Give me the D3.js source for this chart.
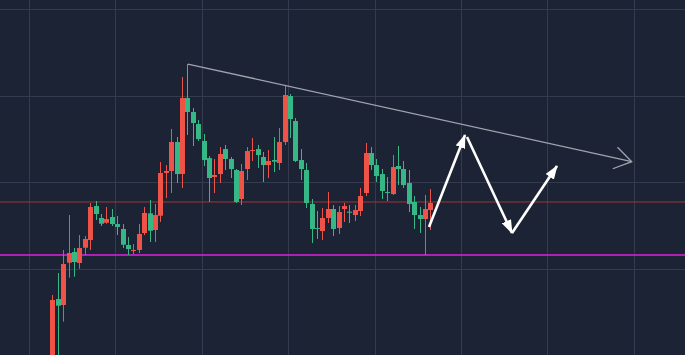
<!DOCTYPE html>
<html>
<head>
<meta charset="utf-8">
<script src="https://cdn.jsdelivr.net/npm/d3@7"></script>
<style>
    body { margin:0; background:#1c2335; overflow:hidden; }
    svg { display:block; }
</style>
</head>
<body>
<svg id="chart"></svg>
<script>
//

// candles, red = up, green = down
var opens = [-1.0, 6.47, 5.78, 10.67, 11.91, 10.64, 12.40, 13.29, 17.22, 15.84,
    15.29, 15.95, 15.14, 14.57, 12.72, 12.02, 12.14, 14.10, 16.38, 14.45,
    16.10, 21.04, 21.27, 24.62, 20.92, 29.71, 28.09, 26.70, 24.74, 22.77,
    20.58, 20.92, 23.81, 22.66, 21.39, 18.03, 21.50, 23.58, 23.81, 22.89,
    21.96, 22.54, 22.20, 24.62, 29.94, 27.05, 22.54, 21.39, 17.46, 14.68,
    14.33, 15.84, 16.88, 14.68, 16.88, 16.57, 16.18, 16.65, 18.73, 23.35,
    21.96, 20.92, 18.84, 18.61, 21.85, 21.50, 19.88, 17.69, 16.18, 15.72, 16.76];
var closes = [6.36, 5.70, 10.52, 11.79, 10.75, 12.37, 13.41, 17.11, 16.30, 15.18,
    15.72, 15.14, 14.80, 12.75, 12.25, 12.14, 13.99, 16.42, 14.37, 16.18,
    21.04, 21.27, 24.62, 20.92, 29.71, 28.09, 26.82, 24.97, 22.54, 20.46,
    20.81, 23.24, 22.66, 21.50, 17.69, 21.27, 23.58, 23.70, 23.12, 21.96,
    22.43, 22.35, 24.62, 30.06, 27.28, 22.43, 21.50, 17.57, 14.57, 14.57,
    15.84, 16.88, 14.57, 16.53, 17.22, 16.45, 16.76, 18.38, 23.35, 21.96,
    20.69, 18.96, 18.73, 21.73, 21.50, 19.65, 17.46, 16.18, 15.72, 16.88, 17.57];
var highs = [6.94, 9.48, 12.14, 16.18, 12.37, 13.87, 13.76, 17.57, 17.80, 16.30,
    17.11, 16.88, 16.07, 15.14, 13.64, 12.83, 15.14, 17.11, 17.92, 17.46,
    22.31, 21.96, 26.13, 25.20, 32.14, 33.64, 28.55, 27.17, 25.55, 23.00,
    22.66, 24.04, 24.28, 22.89, 21.50, 22.08, 24.04, 25.09, 24.28, 23.47,
    23.70, 25.20, 26.24, 31.21, 30.17, 27.40, 23.81, 22.20, 18.03, 16.65,
    16.99, 18.84, 17.34, 17.22, 17.57, 17.34, 17.34, 19.31, 24.51, 24.04,
    22.66, 21.50, 20.58, 23.12, 24.16, 22.43, 21.39, 18.38, 17.11, 18.50, 19.19];
var lows = [-1.5, -0.5, 3.85, 8.94, 9.05, 9.98, 11.56, 12.14, 15.61, 14.91,
    15.18, 14.91, 13.87, 12.37, 11.56, 11.68, 11.79, 13.87, 13.06, 13.06,
    15.38, 18.15, 18.73, 19.88, 19.31, 25.43, 24.16, 24.74, 21.85, 17.69,
    18.73, 19.88, 21.39, 20.46, 17.57, 17.34, 20.23, 22.43, 21.62, 20.00,
    20.46, 21.15, 21.39, 24.28, 25.09, 22.30, 20.23, 16.99, 12.95, 13.41,
    13.29, 15.26, 13.76, 13.99, 15.38, 15.26, 15.49, 16.07, 18.38, 21.39,
    20.00, 18.03, 17.80, 18.50, 19.65, 19.31, 16.53, 14.57, 14.10, 11.56, 14.45];

// grid (candle index / price)
var gridIdx = [-4.3, 11.7, 27.7, 43.7, 59.7, 75.7, 91.7, 107.7];
var gridPrice = [10, 20, 30, 40];

// drawings
var redLevel = 17.69;
var pinkLevel = 11.56;
var trendLine = [{i:25.1, p:33.64}, {i:107.3, p:22.35}];
var arrows = [
    [{i:69.76, p:14.80}, {i:76.43, p:25.43}],
    [{i:76.80, p:25.20}, {i:85.13, p:14.10}],
    [{i:85.13, p:14.10}, {i:93.46, p:21.85}]
];

var W = 685, H = 355;
var conf = {bg:"#1c2335", grid:"#343b4e", up:"#ef5348", down:"#37b686"};

var svg = d3.select("#chart").attr("width", W).attr("height", H);
svg.append("rect").attr("width", W).attr("height", H).attr("fill", conf.bg);

var x = d3.scaleLinear().domain([0, 70]).range([52.3, 430.3]);
var y = d3.scaleLinear().domain([0, 40]).range([H, 9]);

var defs = svg.append("defs");
defs.append("clipPath").attr("id", "clip")
    .append("rect").attr("width", W).attr("height", H);
defs.append("marker")
    .attr("id", "head")
    .attr("markerUnits", "userSpaceOnUse")
    .attr("viewBox", "0 0 14 10")
    .attr("markerWidth", 14).attr("markerHeight", 10)
    .attr("refX", 13).attr("refY", 5)
    .attr("orient", "auto")
    .append("path").attr("d", "M0,0L14,5L0,10Z").attr("fill", "#ffffff");
defs.append("marker")
    .attr("id", "chev")
    .attr("markerUnits", "userSpaceOnUse")
    .attr("viewBox", "-1 -1 20 24")
    .attr("markerWidth", 20).attr("markerHeight", 24)
    .attr("refX", 17).attr("refY", 11)
    .attr("orient", "auto")
    .append("path").attr("d", "M0,0L17,11L0,22")
    .attr("fill", "none").attr("stroke", "#a0a4ae").attr("stroke-width", 1.3);

// grid
let g = svg.append("g").attr("shape-rendering", "crispEdges");
g.selectAll(".vg").data(gridIdx).join("line")
    .attr("class", "vg")
    .attr("x1", d => Math.round(x(d)) + 0.5).attr("x2", d => Math.round(x(d)) + 0.5)
    .attr("y1", 0).attr("y2", H)
    .attr("stroke", conf.grid);
g.selectAll(".hg").data(gridPrice).join("line")
    .attr("class", "hg")
    .attr("y1", d => Math.round(y(d)) + 0.5).attr("y2", d => Math.round(y(d)) + 0.5)
    .attr("x1", 0).attr("x2", W)
    .attr("stroke", conf.grid);

// horizontal levels
svg.append("line")
    .attr("x1", 0).attr("x2", W)
    .attr("y1", y(redLevel)).attr("y2", y(redLevel))
    .attr("stroke", "#a13636").attr("stroke-width", 1);
svg.append("line")
    .attr("x1", 0).attr("x2", W)
    .attr("y1", y(pinkLevel)).attr("y2", y(pinkLevel))
    .attr("stroke", "#dc22dc").attr("stroke-width", 1.3);

// candles
var candles = opens.map((o, i) => ({i:i, o:o, c:closes[i], h:highs[i], l:lows[i]}));
let cg = svg.append("g").attr("clip-path", "url(#clip)");
let cs = cg.selectAll(".candle").data(candles).join("g").attr("class", "candle");
cs.append("line")
    .attr("x1", d => Math.round(x(d.i)) + 0.5).attr("x2", d => Math.round(x(d.i)) + 0.5)
    .attr("y1", d => y(d.h)).attr("y2", d => y(d.l))
    .attr("stroke", d => d.c >= d.o ? conf.up : conf.down)
    .attr("stroke-width", 1);
cs.append("rect")
    .attr("x", d => Math.round(x(d.i)) - 2)
    .attr("width", 5)
    .attr("y", d => y(Math.max(d.o, d.c)))
    .attr("height", d => Math.max(1, Math.abs(y(d.o) - y(d.c))))
    .attr("fill", d => d.c >= d.o ? conf.up : conf.down);

// trend line
svg.append("line")
    .attr("x1", x(trendLine[0].i)).attr("y1", y(trendLine[0].p))
    .attr("x2", x(trendLine[1].i)).attr("y2", y(trendLine[1].p))
    .attr("stroke", "#a0a4ae").attr("stroke-width", 1.3)
    .attr("marker-end", "url(#chev)");

// white arrows
svg.selectAll(".arrow").data(arrows).join("line")
    .attr("class", "arrow")
    .attr("x1", d => x(d[0].i)).attr("y1", d => y(d[0].p))
    .attr("x2", d => x(d[1].i)).attr("y2", d => y(d[1].p))
    .attr("stroke", "#ffffff").attr("stroke-width", 2.6)
    .attr("marker-end", "url(#head)");
</script>
</body>
</html>
